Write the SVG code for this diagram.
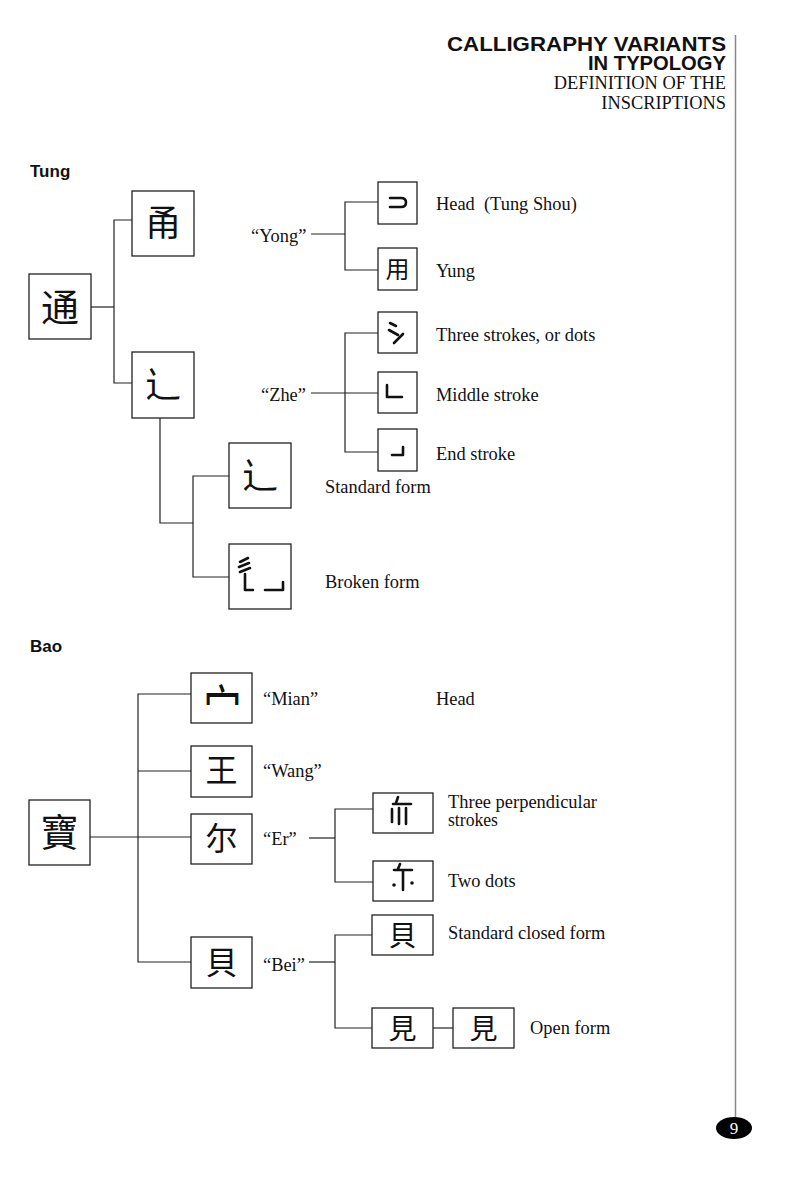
<svg xmlns="http://www.w3.org/2000/svg" width="800" height="1193" viewBox="0 0 800 1193">
<style>
.bg{fill:#fff}
.box{fill:#fff;stroke:#222;stroke-width:1.3}
.ln{fill:none;stroke:#222;stroke-width:1.2}
.tx{font-family:"Liberation Serif","Times New Roman",serif;font-size:18.4px;fill:#111}
.hd{font-family:"Liberation Sans",Arial,sans-serif;font-weight:bold;fill:#111}
.cj{font-family:"Noto Sans CJK SC","Noto Sans CJK TC",sans-serif;fill:#111;text-anchor:middle}
.st{fill:none;stroke:#111;stroke-width:2.6;stroke-linecap:round;stroke-linejoin:round}
.pg{font-family:"Liberation Serif","Times New Roman",serif;font-size:17px;fill:#fff;text-anchor:middle}
</style>
<rect class="bg" x="0" y="0" width="800" height="1193"/>

<g id="header">
<text class="hd" x="726" y="51" font-size="19.5" text-anchor="end" textLength="279" lengthAdjust="spacingAndGlyphs">CALLIGRAPHY VARIANTS</text>
<text class="hd" x="726" y="70" font-size="19.5" text-anchor="end" textLength="138" lengthAdjust="spacingAndGlyphs">IN TYPOLOGY</text>
<text class="tx" x="726" y="88.5" text-anchor="end" font-size="20.5px">DEFINITION OF THE</text>
<text class="tx" x="726" y="108.5" text-anchor="end" font-size="20.5px">INSCRIPTIONS</text>
<line x1="735.5" y1="35" x2="735.5" y2="1117" stroke="#888" stroke-width="1.5"/>
</g>

<g id="section-tung">
<text class="hd" x="30" y="177" font-size="17">Tung</text>
</g>
<g id="section-bao">
<text class="hd" x="30" y="652" font-size="17">Bao</text>
</g>

<g id="connectors">
<!-- Tung -->
<polyline class="ln" points="91,307 114,307"/>
<polyline class="ln" points="132,220 114,220 114,383 132,383"/>
<polyline class="ln" points="160,418 160,523 193,523"/>
<polyline class="ln" points="229,476 193,476 193,577 229,577"/>
<polyline class="ln" points="311,234 345,234"/>
<polyline class="ln" points="378,202 345,202 345,270 378,270"/>
<polyline class="ln" points="311,393 378,393"/>
<polyline class="ln" points="378,333 345,333 345,452 378,452"/>
<!-- Bao -->
<polyline class="ln" points="90,837 191,837"/>
<polyline class="ln" points="191,694 138,694 138,962 191,962"/>
<polyline class="ln" points="138,771 191,771"/>
<polyline class="ln" points="309,838 335,838"/>
<polyline class="ln" points="373,809 335,809 335,882 373,882"/>
<polyline class="ln" points="309,962 335,962"/>
<polyline class="ln" points="372,935 335,935 335,1028 372,1028"/>
<polyline class="ln" points="433,1028 453,1028"/>
</g>

<!-- Tung nodes -->
<g id="n-tung">
<rect class="box" x="29" y="274" width="62" height="65"/>
<text class="cj" x="60" y="321" font-size="38">通</text>
</g>
<g id="n-yong">
<rect class="box" x="132" y="191" width="62" height="65"/>
<text class="cj" x="163" y="236" font-size="36">甬</text>
</g>
<g id="n-zhe">
<rect class="box" x="132" y="352" width="62" height="66"/>
<text class="cj" x="163" y="398" font-size="36">辶</text>
</g>
<g id="l-yong"><text class="tx" x="251" y="242">“Yong”</text></g>
<g id="l-zhe"><text class="tx" x="261" y="401">“Zhe”</text></g>

<g id="n-head">
<rect class="box" x="378" y="182" width="39" height="42"/>
<path class="st" d="M390,198 H401 Q406,198 406,202.5 Q406,207 401,207 H390"/>
<text class="tx" x="436" y="210" xml:space="preserve">Head  (Tung Shou)</text>
</g>
<g id="n-yung">
<rect class="box" x="378" y="248" width="39" height="42"/>
<text class="cj" x="397.5" y="278" font-size="24">用</text>
<text class="tx" x="436" y="277">Yung</text>
</g>
<g id="n-three">
<rect class="box" x="378" y="312" width="39" height="41"/>
<path class="st" d="M390,323 L396,326 M389,330 L398,335 M394,343 L403,334"/>
<text class="tx" x="436" y="341">Three strokes, or dots</text>
</g>
<g id="n-middle">
<rect class="box" x="378" y="372" width="39" height="41"/>
<path class="st" d="M387,385 V397 H402"/>
<text class="tx" x="436" y="401">Middle stroke</text>
</g>
<g id="n-end">
<rect class="box" x="378" y="429" width="39" height="42"/>
<path class="st" d="M392,455 H403 V447"/>
<text class="tx" x="436" y="460">End stroke</text>
</g>
<g id="n-standard">
<rect class="box" x="229" y="443" width="62" height="65"/>
<text class="cj" x="260" y="489" font-size="36">辶</text>
<text class="tx" x="325" y="493">Standard form</text>
</g>
<g id="n-broken">
<rect class="box" x="229" y="544" width="62" height="65"/>
<path class="st" d="M240,562 L248,558 M239,567 L249,563 M240,572 L250,568 M245,574 V590 H253 M265,590 H283 V582"/>
<text class="tx" x="325" y="588">Broken form</text>
</g>

<!-- Bao nodes -->
<g id="n-bao">
<rect class="box" x="29" y="800" width="61" height="65"/>
<text class="cj" x="59.5" y="846" font-size="38">寶</text>
</g>
<g id="n-mian">
<rect class="box" x="191" y="673" width="61" height="50"/>
<text class="cj" transform="translate(222.5,730) scale(1.2,1.7)" x="0" y="0" font-size="32">宀</text>
<text class="tx" x="263" y="705">“Mian”</text>
<text class="tx" x="436" y="705">Head</text>
</g>
<g id="n-wang">
<rect class="box" x="191" y="746" width="61" height="51"/>
<text class="cj" x="221.5" y="782" font-size="32">王</text>
<text class="tx" x="263" y="777">“Wang”</text>
</g>
<g id="n-er">
<rect class="box" x="191" y="814" width="61" height="50"/>
<text class="cj" x="221.5" y="850" font-size="32">尔</text>
<text class="tx" x="263" y="845">“Er”</text>
</g>
<g id="n-er-three">
<rect class="box" x="373" y="793" width="60" height="40"/>
<path class="st" d="M398,797 L396,803 M393,804 H411 M392,809 V822 M399,808 V824 M406,808 V824" stroke-width="2.3"/>
<text class="tx" x="448" y="807.5" font-size="17px" textLength="149" lengthAdjust="spacingAndGlyphs">Three perpendicular</text>
<text class="tx" x="448" y="826" font-size="17px" textLength="50" lengthAdjust="spacingAndGlyphs">strokes</text>
</g>
<g id="n-er-dots">
<rect class="box" x="373" y="861" width="60" height="40"/>
<path class="st" d="M400,864 L398,869 M394,870 H412 M403,870 V890" stroke-width="2.3"/>
<circle cx="394" cy="885" r="1.8" fill="#111"/>
<circle cx="412" cy="883" r="1.8" fill="#111"/>
<text class="tx" x="448" y="887">Two dots</text>
</g>
<g id="n-bei">
<rect class="box" x="191" y="937" width="61" height="51"/>
<text class="cj" x="221.5" y="974" font-size="32">貝</text>
<text class="tx" x="263" y="971">“Bei”</text>
</g>
<g id="n-bei-closed">
<rect class="box" x="372" y="915" width="61" height="40"/>
<text class="cj" x="402.5" y="946" font-size="28">貝</text>
<text class="tx" x="448" y="939">Standard closed form</text>
</g>
<g id="n-bei-open1">
<rect class="box" x="372" y="1008" width="61" height="40"/>
<text class="cj" x="402.5" y="1039" font-size="28">見</text>
</g>
<g id="n-bei-open2">
<rect class="box" x="453" y="1008" width="61" height="40"/>
<text class="cj" x="483.5" y="1039" font-size="28">見</text>
<text class="tx" x="530" y="1034">Open form</text>
</g>

<g id="page-number">
<ellipse cx="734" cy="1128" rx="18" ry="11" fill="#000"/>
<text class="pg" x="734" y="1134">9</text>
</g>
</svg>
